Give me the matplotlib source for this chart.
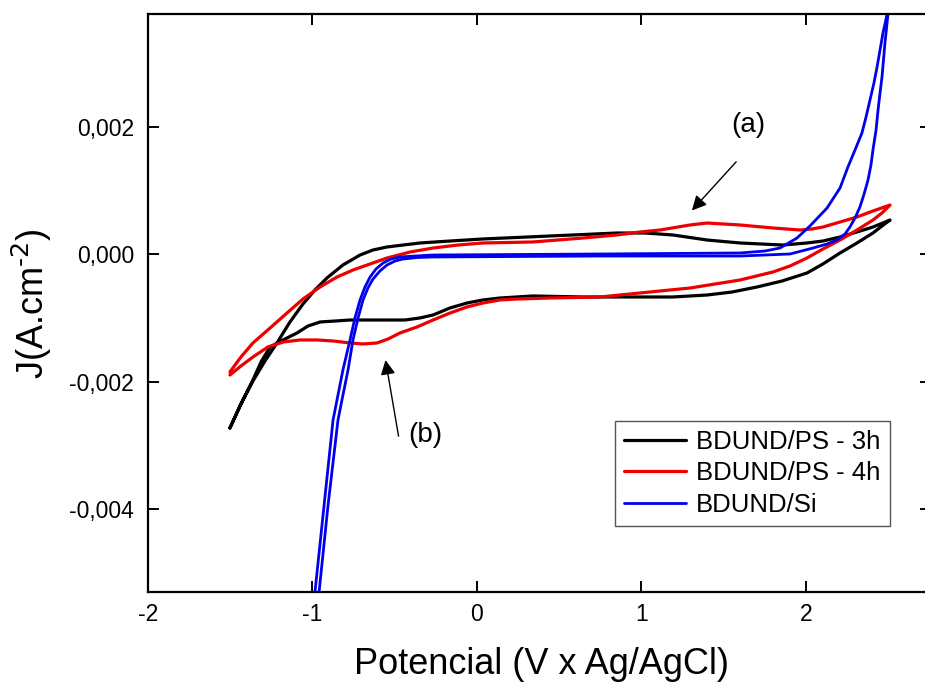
import matplotlib
matplotlib.use("Agg")
import matplotlib.pyplot as plt
from matplotlib.ticker import FuncFormatter

plt.rcParams['font.family'] = ['Liberation Sans', 'DejaVu Sans']
plt.rcParams['mathtext.default'] = 'regular'
plt.rcParams['axes.unicode_minus'] = False

# BDUND/PS - 3h : anodic branch then cathodic branch (closed loop)
ps3_x = [-1.502, -1.435, -1.362, -1.289, -1.216, -1.137, -1.058, -0.985, -0.912, -0.815,
         -0.711, -0.632, -0.547, -0.450, -0.347, -0.164, 0.036, 0.444, 0.851, 1.021,
         1.191, 1.398, 1.599, 1.860, 2.006, 2.103, 2.207, 2.310, 2.407, 2.511,
         2.462, 2.407, 2.310, 2.207, 2.103, 2.006, 1.854, 1.702, 1.550, 1.398,
         1.191, 0.991, 0.644, 0.340, 0.140, 0.036, -0.061, -0.164, -0.267, -0.347,
         -0.438, -0.590, -0.772, -0.863, -0.954, -1.027, -1.094, -1.179, -1.258, -1.313,
         -1.362, -1.435, -1.502]
ps3_y = [-0.002728, -0.002351, -0.001989, -0.001675, -0.001391, -0.001061, -0.000778, -0.000558, -0.000369, -0.000165,
         -0.000008, 0.000071, 0.000118, 0.000149, 0.000181, 0.000212, 0.000244, 0.000291, 0.000338, 0.000338,
         0.000307, 0.000228, 0.000181, 0.000149, 0.000181, 0.000212, 0.000275, 0.000354, 0.000432, 0.000542,
         0.000448, 0.000338, 0.000181, 0.000024, -0.000149, -0.000291, -0.000417, -0.000511, -0.000590, -0.000637,
         -0.000668, -0.000668, -0.000668, -0.000652, -0.000684, -0.000715, -0.000763, -0.000841, -0.000951, -0.000998,
         -0.001030, -0.001030, -0.001030, -0.001046, -0.001061, -0.001124, -0.001234, -0.001344, -0.001454, -0.001690,
         -0.001973, -0.002351, -0.002728]

# BDUND/PS - 4h
ps4_x = [-1.502, -1.435, -1.362, -1.258, -1.155, -1.058, -0.954, -0.851, -0.754, -0.650,
         -0.547, -0.407, -0.267, -0.116, 0.036, 0.340, 0.644, 0.851, 0.991, 1.112,
         1.295, 1.398, 1.495, 1.599, 1.799, 1.964, 2.036, 2.103, 2.207, 2.310,
         2.407, 2.511,
         2.462, 2.407, 2.310, 2.207, 2.103, 2.006, 1.903, 1.799, 1.599, 1.447,
         1.295, 0.991, 0.748, 0.444, 0.243, 0.140, 0.036, -0.061, -0.164, -0.267,
         -0.365, -0.468, -0.541, -0.608, -0.693, -0.772, -0.875, -0.973, -1.076, -1.179,
         -1.271, -1.362, -1.435, -1.502]
ps4_y = [-0.001847, -0.001612, -0.001391, -0.001156, -0.000920, -0.000700, -0.000511, -0.000354, -0.000244, -0.000149,
         -0.000055, 0.000039, 0.000102, 0.000149, 0.000181, 0.000197, 0.000259, 0.000307, 0.000354, 0.000385,
         0.000464, 0.000495, 0.000480, 0.000464, 0.000417, 0.000385, 0.000401, 0.000432, 0.000511, 0.000590,
         0.000684, 0.000778,
         0.000653, 0.000542, 0.000385, 0.000228, 0.000086, -0.000055, -0.000181, -0.000275, -0.000401, -0.000464,
         -0.000527, -0.000605, -0.000668, -0.000684, -0.000700, -0.000715, -0.000763, -0.000825, -0.000920, -0.001030,
         -0.001140, -0.001234, -0.001329, -0.001391, -0.001407, -0.001391, -0.001360, -0.001344, -0.001344, -0.001376,
         -0.001454, -0.001612, -0.001753, -0.001895]

# BDUND/Si : two close branches, running off the plot at both ends
si_a_x = [-1.052, -0.985, -0.930, -0.875, -0.851, -0.815, -0.772, -0.742, -0.711, -0.681,
          -0.650, -0.614, -0.571, -0.523, -0.468, -0.377, -0.267, 0.748, 1.599, 1.751,
          1.842, 1.945, 2.024, 2.128, 2.207, 2.255, 2.298, 2.340, 2.365, 2.389,
          2.413, 2.432, 2.450, 2.468, 2.492, 2.511]
si_a_y = [-0.00702, -0.005307, -0.003954, -0.002602, -0.002288, -0.001816, -0.001344, -0.000998, -0.000715, -0.000511,
          -0.000354, -0.000228, -0.000134, -0.000071, -0.000039, -0.000024, -0.000008, 0.000008, 0.000024, 0.000055,
          0.000102, 0.000259, 0.000448, 0.000731, 0.001046, 0.001376, 0.001643, 0.001910, 0.002162, 0.002429,
          0.002696, 0.002948, 0.003215, 0.003483, 0.003766, 0.004002]
si_b_x = [-1.027, -0.960, -0.906, -0.845, -0.821, -0.784, -0.754, -0.723, -0.693, -0.663,
          -0.632, -0.590, -0.547, -0.498, -0.450, -0.359, -0.267, 0.748, 1.599, 1.903,
          2.043, 2.128, 2.188, 2.237, 2.267, 2.298, 2.328, 2.353, 2.377, 2.395,
          2.407, 2.426, 2.438, 2.450, 2.462, 2.480, 2.498, 2.511]
si_b_y = [-0.00702, -0.005307, -0.003954, -0.002602, -0.002288, -0.001816, -0.001344, -0.000998, -0.000715, -0.000527,
          -0.000385, -0.000259, -0.000165, -0.000102, -0.000071, -0.000047, -0.000039, -0.000024, -0.000024, 0.000008,
          0.000102, 0.000165, 0.000228, 0.000322, 0.000432, 0.000574, 0.000747, 0.000951, 0.001171, 0.001407,
          0.001643, 0.001958, 0.002272, 0.002539, 0.002791, 0.003325, 0.003766, 0.004002]

fig = plt.figure(figsize=(9.25, 6.84), dpi=100)
ax = fig.add_axes([0.16, 0.1345, 0.8465, 0.8446])

lw = 2.3
style = dict(solid_joinstyle='round', solid_capstyle='round')
ax.plot(ps3_x, ps3_y, color='black', lw=lw, label='BDUND/PS - 3h', **style)
ax.plot(ps4_x, ps4_y, color='#ee0000', lw=lw, label='BDUND/PS - 4h', **style)
ax.plot(si_a_x, si_a_y, color='#0000ee', lw=2.0, label='BDUND/Si', **style)
ax.plot(si_b_x, si_b_y, color='#0000ee', lw=2.0, **style)

ax.set_xlim(-2, 2.76)
ax.set_ylim(-0.005307, 0.003777)
ax.set_xticks([-2, -1, 0, 1, 2])
ax.set_yticks([-0.004, -0.002, 0.0, 0.002])
ax.yaxis.set_major_formatter(FuncFormatter(lambda v, p: f'{v:.3f}'.replace('.', ',').replace('-0,000', '0,000')))
ax.xaxis.set_major_formatter(FuncFormatter(lambda v, p: f'{v:.0f}'))

ax.tick_params(direction='in', length=8, width=1.4, labelsize=16.5,
               top=True, right=True, pad=8)
ax.tick_params(axis='y', pad=10)
for s in ax.spines.values():
    s.set_linewidth(1.6)

ax.set_xlabel('Potencial (V x Ag/AgCl)', fontsize=26)
ax.set_ylabel(r'J(A.cm$^{\text{-2}}$)', fontsize=26)
ax.xaxis.set_label_coords(0.502, -0.095)
ax.yaxis.set_label_coords(-0.12, 0.5)

ax.annotate('', xy=(1.295, 0.000659), xytext=(1.587, 0.00149),
            arrowprops=dict(arrowstyle='-|>', color='black', lw=1.0, mutation_scale=22))
ax.text(1.647, 0.00204, '(a)', fontsize=20, ha='center', va='center')
ax.annotate('', xy=(-0.559, -0.001616), xytext=(-0.474, -0.0029),
            arrowprops=dict(arrowstyle='-|>', color='black', lw=1.0, mutation_scale=22))
ax.text(-0.316, -0.00284, '(b)', fontsize=20, ha='center', va='center')

leg = ax.legend(loc='lower right', bbox_to_anchor=(0.947, 0.114), borderaxespad=0,
                fontsize=18.5, fancybox=False, edgecolor='#555555', framealpha=1,
                handlelength=2.4, handletextpad=0.4, labelspacing=0.3, borderpad=0.35)
leg.get_frame().set_linewidth(1.0)

fig.savefig('out.png', dpi=100)
